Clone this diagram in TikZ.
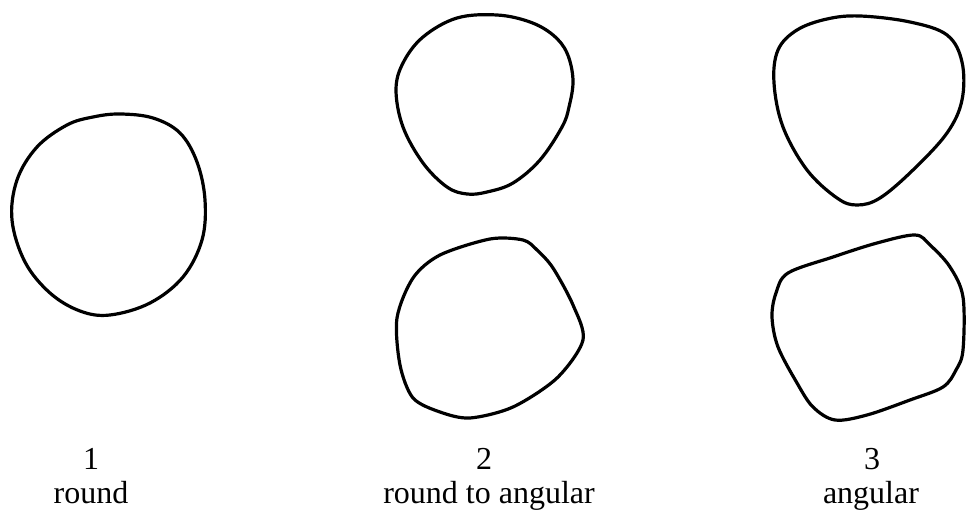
\documentclass[tikz,border=0pt]{standalone}
\usepackage{fontspec}
\setmainfont{Liberation Serif}
\begin{document}
\begin{tikzpicture}[x=1pt,y=-1pt,
  sketch/.style={draw=black,line width=3.2pt,line join=round},
  lbl/.style={anchor=base,inner sep=0pt,font=\fontsize{32}{38}\selectfont}]
\useasboundingbox (0,0) rectangle (966,510);
% shape 1
\draw[sketch] plot[smooth cycle,tension=0.6] coordinates {
 (120,114) (153,118) (180,133) (197,162) (205,200) (202,240) (183,277)
 (150,303) (110,315) (80,311) (50,293) (25,262) (12,220) (17,180)
 (37,147) (67,125) (93,117)};
% shape 2a
\draw[sketch] plot[smooth cycle,tension=0.6] coordinates {
 (497,15) (530,22) (553,35) (567,53) (573,80) (569,107) (562,127)
 (540,160) (513,183) (487,192) (467,194) (447,187) (423,163) (403,127)
 (396,90) (403,63) (423,37) (457,18)};
% shape 2b
\draw[sketch] plot[smooth cycle,tension=0.5] coordinates {
 (523,240) (537,250) (553,268) (573,305) (583,340) (557,378) (513,407)
 (470,418) (440,412) (413,398) (400,365) (397,318) (413,278) (440,255)
 (490,239)};
% shape 3a
\draw[sketch] plot[smooth cycle,tension=0.6] coordinates {
 (860,16) (910,22) (947,35) (962,62) (962,100) (947,133) (913,170)
 (880,198) (857,205) (837,198) (807,170) (783,127) (774,83) (778,50)
 (797,30) (827,19)};
% shape 3b
\draw[sketch] plot[smooth cycle,tension=0.55] coordinates {
 (915,235) (930,245) (950,267) (963,297) (963,350) (956,370) (943,387)
 (910,400) (867,415) (835,420) (813,407) (797,383) (778,347) (772,317)
 (776,293) (788,273) (833,257) (877,243)};
% labels
\node[lbl] (n1) at (91,469) {1};
\node[lbl] (t1) at (91,503) {round};
\node[lbl] (n2) at (484,469) {2};
\node[lbl] (t2) at (489,503) {round to angular};
\node[lbl] (n3) at (872,469) {3};
\node[lbl] (t3) at (871,503) {angular};
\end{tikzpicture}
\end{document}
